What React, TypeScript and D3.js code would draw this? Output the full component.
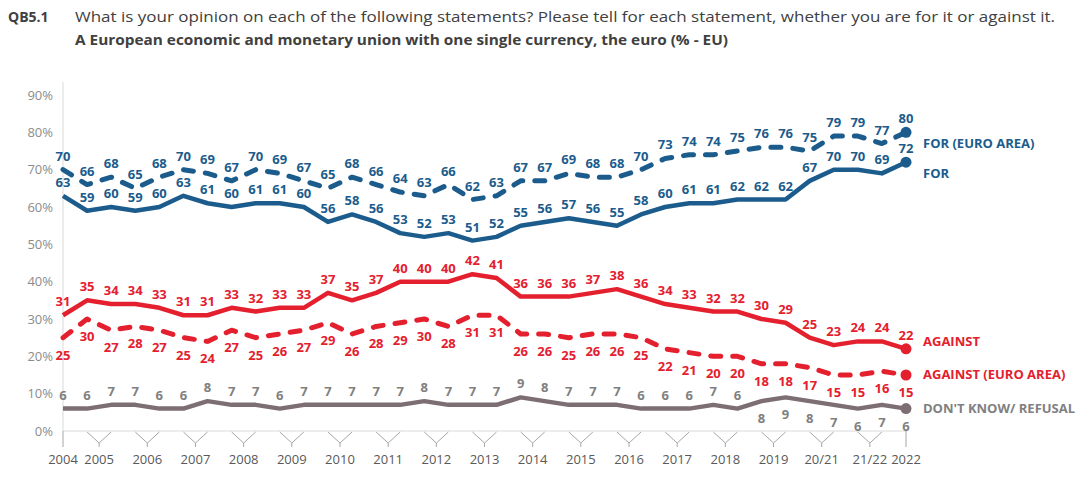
import React from "react";
import * as d3 from "d3";

const groupLabels = ["2004","2005","2006","2007","2008","2009","2010","2011","2012","2013","2014","2015","2016","2017","2018","2019","20/21","21/22","2022"];
const groupSizes = [1,2,2,2,2,2,2,2,2,2,2,2,2,2,2,2,2,2,1];

const forVals = [63,59,60,59,60,63,61,60,61,61,60,56,58,56,53,52,53,51,52,55,56,57,56,55,58,60,61,61,62,62,62,67,70,70,69,72];
const forEA = [70,66,68,65,68,70,69,67,70,69,67,65,68,66,64,63,66,62,63,67,67,69,68,68,70,73,74,74,75,76,76,75,79,79,77,80];
const againstVals = [31,35,34,34,33,31,31,33,32,33,33,37,35,37,40,40,40,42,41,36,36,36,37,38,36,34,33,32,32,30,29,25,23,24,24,22];
const againstEA = [25,30,27,28,27,25,24,27,25,26,27,29,26,28,29,30,28,31,31,26,26,25,26,26,25,22,21,20,20,18,18,17,15,15,16,15];
const dkVals = [6,6,7,7,6,6,8,7,7,6,7,7,7,7,7,8,7,7,7,9,8,7,7,7,6,6,6,7,6,8,9,8,7,6,7,6];

const yTicks = [0,10,20,30,40,50,60,70,80,90];

const BLUE = "#1b5c8c";
const RED = "#e4202e";
const GRAY = "#7d6e73";
const LGRAY = "#808080";

type Series = { name: string; values: number[]; color: string; labelColor: string; dashed: boolean; below: (i: number) => boolean };

const series: Series[] = [
  { name: "FOR (EURO AREA)", values: forEA, color: BLUE, labelColor: BLUE, dashed: true, below: () => false },
  { name: "FOR", values: forVals, color: BLUE, labelColor: BLUE, dashed: false, below: () => false },
  { name: "AGAINST", values: againstVals, color: RED, labelColor: RED, dashed: false, below: () => false },
  { name: "AGAINST (EURO AREA)", values: againstEA, color: RED, labelColor: RED, dashed: true, below: () => true },
  { name: "DON'T KNOW/ REFUSAL", values: dkVals, color: GRAY, labelColor: LGRAY, dashed: false, below: (i) => i >= 29 },
];

const legendY: Record<string, number> = {
  "FOR (EURO AREA)": 143,
  "FOR": 173,
  "AGAINST": 341,
  "AGAINST (EURO AREA)": 374,
  "DON'T KNOW/ REFUSAL": 408,
};

export default function App() {
  const W = 1084, H = 480;
  const n = forVals.length;
  const x = d3.scaleLinear().domain([0, n - 1]).range([63, 906]);
  const y = d3.scaleLinear().domain([0, 90]).range([431, 95]);
  const line = d3.line<number>().x((_, i) => x(i)).y((d) => y(d));
  const font = "'Open Sans', 'Segoe UI', sans-serif";

  // groups
  let start = 0;
  const groups = groupLabels.map((lab, gi) => {
    const s = start;
    const e = start + groupSizes[gi] - 1;
    start += groupSizes[gi];
    return { lab, s, e };
  });
  const base = y(0);

  return (
    <svg width={W} height={H} style={{ position: "absolute", left: 0, top: 0, background: "#fff" }} fontFamily={font}>
      <text x={8} y={22} fontSize={14} fontWeight={700} fill="#404040">QB5.1</text>
      <text x={75} y={22} fontSize={14} fill="#404040" textLength={980} lengthAdjust="spacingAndGlyphs">What is your opinion on each of the following statements? Please tell for each statement, whether you are for it or against it.</text>
      <text x={75} y={45} fontSize={14} fontWeight={700} fill="#404040" textLength={653} lengthAdjust="spacingAndGlyphs">A European economic and monetary union with one single currency, the euro (% - EU)</text>

      {/* y axis */}
      <line x1={63} x2={63} y1={82} y2={base} stroke="#d9d9d9" strokeWidth={1} />
      {yTicks.map((t) => (
        <text key={t} x={53} y={y(t) + 4.5} fontSize={13} fill="#8c8c8c" textAnchor="end">{t}%</text>
      ))}
      {/* x axis */}
      <line x1={63} x2={906} y1={base} y2={base} stroke="#d9d9d9" strokeWidth={1} />
      {groups.map((g) => {
        const cx = (x(g.s) + x(g.e)) / 2;
        return (
          <g key={g.lab}>
            {g.s === g.e ? (
              <line x1={cx} x2={cx} y1={base} y2={base + 16} stroke="#a6a6a6" strokeWidth={1} />
            ) : (
              <path d={`M${x(g.s)},${base + 1}L${cx},${base + 12}L${x(g.e)},${base + 1}M${cx},${base + 12}L${cx},${base + 16}`} fill="none" stroke="#a6a6a6" strokeWidth={1} />
            )}
            <text x={cx} y={464} fontSize={13} fill="#595959" textAnchor="middle">{g.lab}</text>
          </g>
        );
      })}

      {series.map((s) => (
        <g key={s.name}>
          <path d={line(s.values) || ""} fill="none" stroke={s.color} strokeWidth={s.dashed ? 5 : 4.5}
            strokeDasharray={s.dashed ? "10,12" : undefined} strokeLinecap={s.dashed ? "round" : "butt"} strokeLinejoin="round" />
          <circle cx={x(n - 1)} cy={y(s.values[n - 1])} r={5.5} fill={s.color} />
          {s.values.map((v, i) => (
            <text key={i} x={x(i)} y={s.below(i) ? y(v) + 22 : y(v) - 9} fontSize={13} fontWeight={700} fill={s.labelColor} textAnchor="middle">{v}</text>
          ))}
          <text x={923} y={legendY[s.name] + 4.5} fontSize={13} fontWeight={700} fill={s.labelColor}>{s.name}</text>
        </g>
      ))}
    </svg>
  );
}
